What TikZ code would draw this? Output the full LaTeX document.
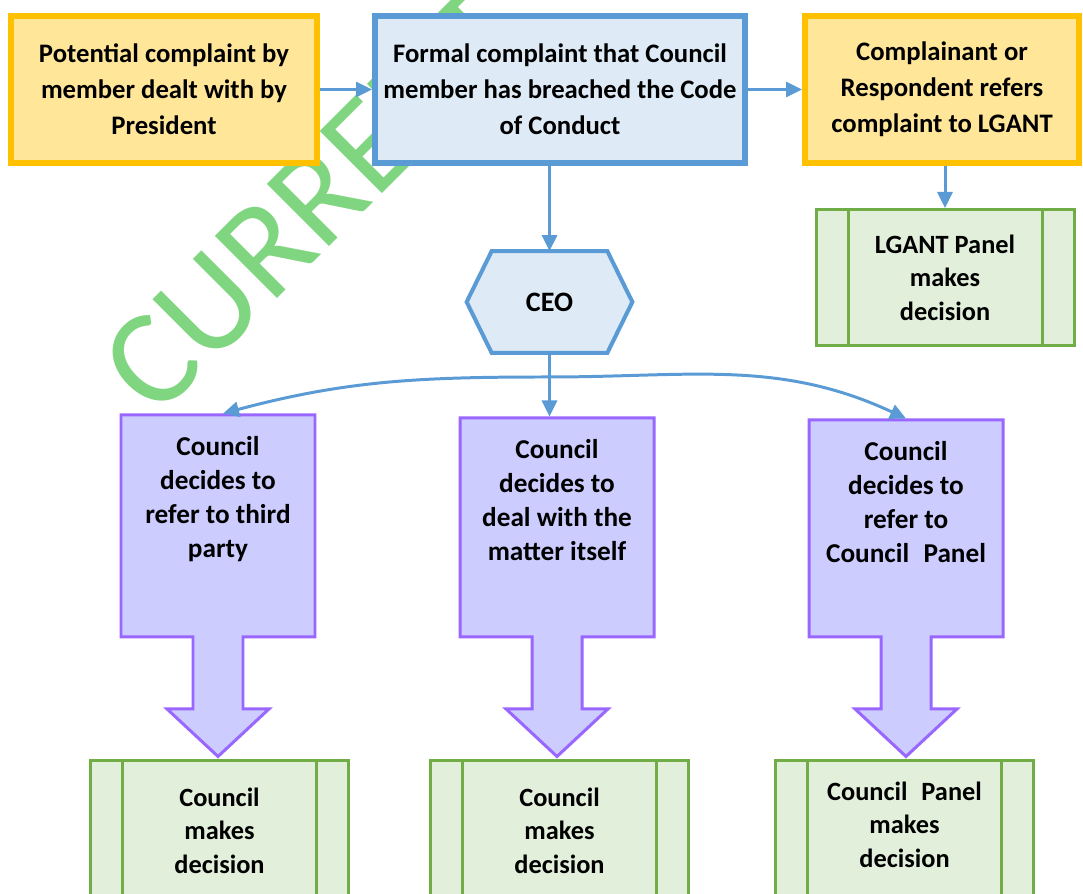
\documentclass[tikz,border=0pt]{standalone}
\usepackage{fontspec}
\setmainfont{Carlito}
\usetikzlibrary{positioning,arrows.meta,shapes.arrows}

\definecolor{boxyellow}{HTML}{FFE699}
\definecolor{boxorange}{HTML}{FFC000}
\definecolor{boxlightblue}{HTML}{DEEBF7}
\definecolor{boxblue}{HTML}{5B9BD5}
\definecolor{boxlilac}{HTML}{CCCCFF}
\definecolor{boxpurple}{HTML}{9966FF}
\definecolor{boxlightgreen}{HTML}{E2EFDA}
\definecolor{boxgreen}{HTML}{70AD47}
\definecolor{markgreen}{RGB}{128,214,128}

\tikzset{
  topbox/.style={draw, line width=3.4pt, align=center, minimum height=2.94cm, font=\bfseries\fontsize{15.2}{20.5}\selectfont},
  yellowbox/.style={topbox, draw=boxorange, fill=boxyellow},
  bluebox/.style={topbox, draw=boxblue, fill=boxlightblue},
  decision/.style={draw=boxgreen, fill=boxlightgreen, line width=1.7pt, align=center, minimum width=5.16cm, font=\bfseries\fontsize{15}{19}\selectfont,
    path picture={
      \draw[boxgreen, line width=1.7pt] ([xshift=0.64cm]path picture bounding box.north west) -- ([xshift=0.64cm]path picture bounding box.south west);
      \draw[boxgreen, line width=1.7pt] ([xshift=-0.64cm]path picture bounding box.north east) -- ([xshift=-0.64cm]path picture bounding box.south east);
    }},
  choice/.style={arrow box, arrow box arrows={south:2.36cm}, arrow box shaft width=1cm, arrow box head extend=0.52cm, arrow box tip angle=94,
    draw=boxpurple, fill=boxlilac, line width=1.7pt, minimum width=3.88cm},
  choicetext/.style={align=center, font=\bfseries\fontsize{15.5}{19.3}\selectfont},
  conn/.style={draw=boxblue, line width=1.7pt, -{Triangle[length=0.32cm, width=0.3cm]}}
}

\begin{document}
\begin{tikzpicture}
  \useasboundingbox (0,0) rectangle (21.66,17.88);
  \node[rotate=45, text=markgreen, font=\fontsize{78}{78}\selectfont] (mark) at (6.27,13.87) {CURRENT};

  \node[yellowbox, minimum width=6.12cm] (potential) at (3.28,16.09) {Potential complaint by\\member dealt with by\\President};
  \node[bluebox, minimum width=7.4cm] (formal) at (11.2,16.09) {Formal complaint that Council\\member has breached the Code\\of Conduct};
  \node[yellowbox, minimum width=5.48cm] (complainant) at (18.84,16.09) {Complainant or\\Respondent refers\\complaint to LGANT};
  \node[decision, minimum height=2.72cm] (lgant) at (18.9,12.33) {LGANT Panel\\makes\\decision};

  \node[minimum width=3.3cm, minimum height=2.02cm] (ceo) at (10.99,11.84) {};
  \draw[boxblue, fill=boxlightblue, line width=2.3pt] (ceo.west) -- ([xshift=0.5cm]ceo.north west) -- ([xshift=-0.5cm]ceo.north east) -- (ceo.east) -- ([xshift=-0.5cm]ceo.south east) -- ([xshift=0.5cm]ceo.south west) -- cycle;
  \node[font=\bfseries\fontsize{16}{20.5}\selectfont] (ceotext) at (ceo) {CEO};
  \coordinate (fork) at (10.99,10.34);

  \node[choice, minimum height=4.44cm] (lchoice) at (4.36,7.36) {};
  \node[choice, minimum height=4.38cm] (mchoice) at (11.14,7.33) {};
  \node[choice, minimum height=4.34cm] (rchoice) at (18.12,7.31) {};
  \node[choicetext, below=0.33cm of lchoice.north] (ltext) {Council\\decides to\\refer to third\\party};
  \node[choicetext, below=0.33cm of mchoice.north] (mtext) {Council\\decides to\\deal with the\\matter itself};
  \node[choicetext, below=0.33cm of rchoice.north] (rtext) {Council\\decides to\\refer to\\Council\hspace{0.3em} Panel};

  \node[decision, minimum height=2.8cm] (ldecision) at (4.39,1.27) {Council\\makes\\decision};
  \node[decision, minimum height=2.8cm] (mdecision) at (11.19,1.27) {Council\\makes\\decision};
  \node[decision, minimum height=2.8cm, text depth=0.24cm] (rdecision) at (18.09,1.27) {Council\hspace{0.3em} Panel\\makes\\decision};

  \draw[conn] (potential) -- (formal);
  \draw[conn] (formal) -- (complainant);
  \draw[conn] (ceo.north |- formal.south) -- (ceo.north);
  \draw[conn] (lgant.north |- complainant.south) -- (lgant.north);
  \draw[conn] (ceo.south) -- (ceo.south |- mchoice.north);
  \draw[conn] (fork) to[out=180, in=15] ([xshift=0.1cm]lchoice.north);
  \draw[conn] (fork) to[out=0, in=155] (rchoice.north);
\end{tikzpicture}
\end{document}
